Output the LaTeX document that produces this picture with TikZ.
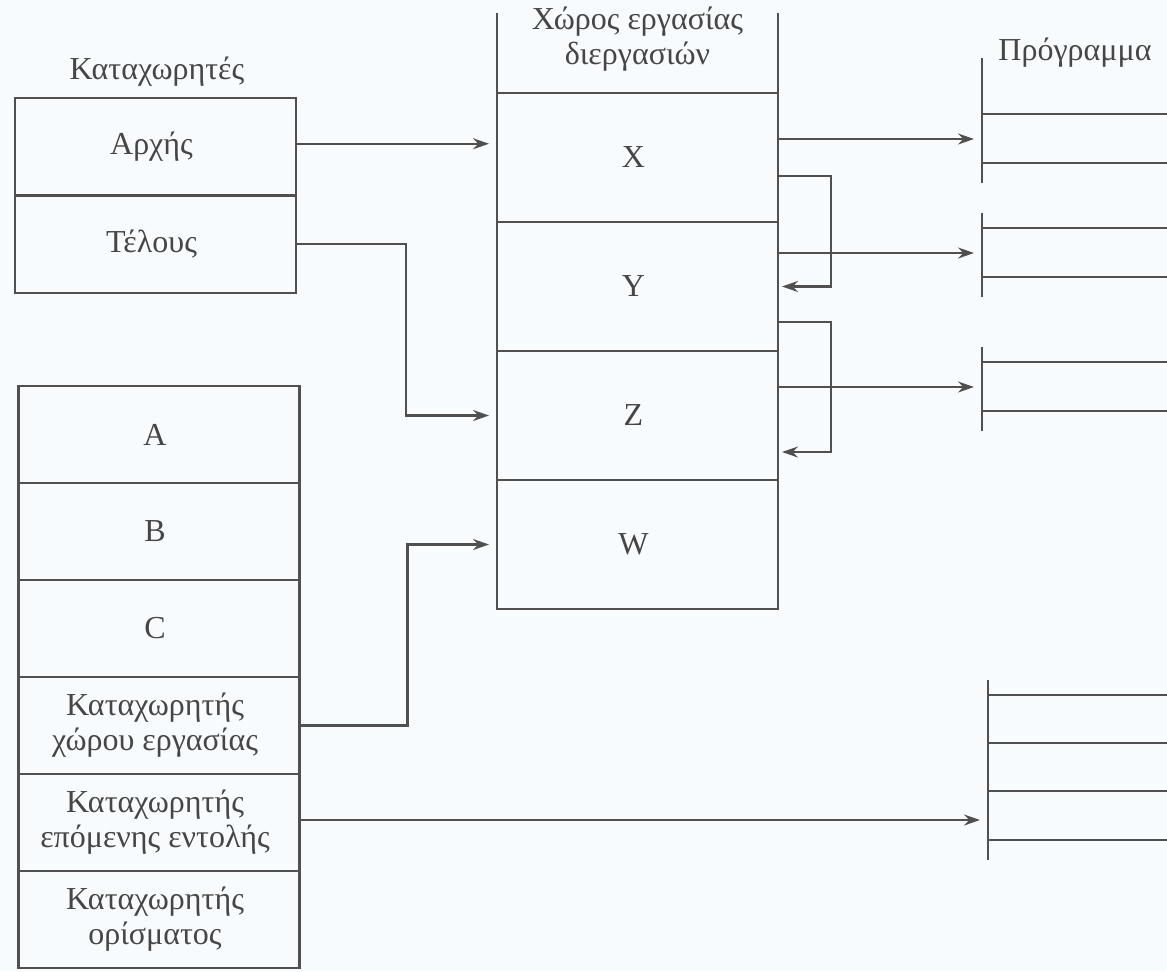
\documentclass[tikz,border=0pt]{standalone}
\usepackage{fontspec}
\setmainfont{Liberation Serif}
\usetikzlibrary{calc,matrix,arrows.meta}

\definecolor{paper}{RGB}{248,251,253}
\definecolor{ink}{RGB}{80,80,80}
\definecolor{textgray}{RGB}{70,70,70}

\newcommand{\twolines}[2]{\begin{tabular}{@{}c@{}}#1\\#2\end{tabular}}

\tikzset{
  cell/.style={draw=ink, line width=1.1pt, minimum width=140.5pt,
    outer sep=0pt, inner sep=1pt, align=center},
  arr/.style={-{Stealth[length=8pt,width=5.5pt]}, shorten >=4pt},
}

\begin{document}
\begin{tikzpicture}[x=0.5pt, y=-0.5pt, line width=1.1pt, draw=ink,
    every node/.style={font=\fontsize{16pt}{17.5pt}\selectfont, text=textgray}]
     \fill[paper] (0,0) rectangle (1167,971);
     \useasboundingbox (0,0) rectangle (1167,971);

     % registers at the top left
     \node (regslabel) at (157,72) {Καταχωρητές};
     \matrix [%
       matrix of nodes,
       nodes={cell, minimum height=48.75pt},
       row sep=-1.1pt
     ] (regs) at (155.5,195.5) {%
       Αρχής \\
       Τέλους \\
     };

     % process workspace
     \node[align=center] (wstitle) at (637.5,39) {Χώρος εργασίας\\διεργασιών};
     \matrix [%
       matrix of nodes,
       nodes={cell, minimum height=64.5pt},
       row sep=-1.1pt
     ] (ws) at (637.5,351) {%
       X \\
       Y \\
       Z \\
       W \\
     };
     \draw (ws-1-1.north west) -- ++(0,-80)
           (ws-1-1.north east) -- ++(0,-80);

     % register file at the bottom left
     \matrix [%
       matrix of nodes,
       nodes={cell, minimum height=48.5pt},
       row sep=-1.1pt
     ] (mem) at (159,677) {%
       A \\
       B \\
       C \\
       \twolines{Καταχωρητής}{χώρου εργασίας} \\
       \twolines{Καταχωρητής}{επόμενης εντολής} \\
       \twolines{Καταχωρητής}{ορίσματος} \\
     };

     % program
     \node (proglabel) at (1075,53) {Πρόγραμμα};
     \foreach \ya/\yt [count=\i] in {139/58,253/213,387/347} {
       \coordinate (prog\i) at (982,\ya);
       \draw (982,\yt) -- (982,\ya+44);
       \draw (982,\ya-25) -- (1167,\ya-25)
             (982,\ya+24) -- (1167,\ya+24);
     }
     \coordinate (prog4) at (988,820);
     \draw (988,680) -- (988,860);
     \foreach \yh in {695,743,791,840}
       \draw (988,\yh) -- (1167,\yh);

     \path ($(regs-1-1.east)+(0,-3)$) edge[arr] ($(regs-1-1.east -| ws-1-1.west)+(0,-3)$)
           (ws-1-1.east |- prog1) edge[arr] (prog1)
           (ws-2-1.east |- prog2) edge[arr] (prog2)
           (ws-3-1.east |- prog3) edge[arr] (prog3)
           (mem-5-1.east |- prog4) edge[arr] (prog4);

     \draw[arr] (regs-2-1.east) -- ++(110,0) |- (ws-3-1.west);
     \draw[arr] (mem-4-1.east) -- ++(108,0) |- (ws-4-1.west);
     \draw[arr, shorten >=2pt] ($(ws-1-1.east)+(0,18.5)$) -- ++(53,0) |- (ws-2-1.east);
     \draw[arr, shorten >=2pt] ($(ws-2-1.east)+(0,35.5)$) -- ++(53,0) |- ($(ws-3-1.east)+(0,36.5)$);
\end{tikzpicture}
\end{document}
